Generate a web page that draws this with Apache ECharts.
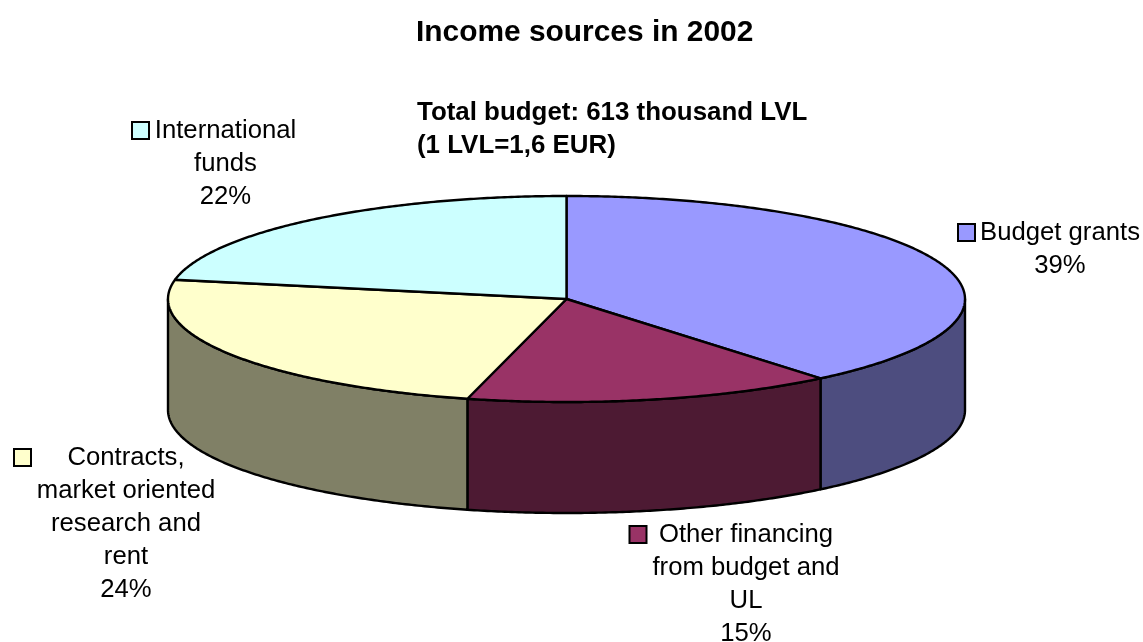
<!DOCTYPE html>
<html>
<head>
<meta charset="utf-8">
<style>html,body{margin:0;padding:0;background:#fff}#chart{width:1143px;height:642px}</style>
<script src="https://cdn.jsdelivr.net/npm/echarts@6/dist/echarts.min.js"></script>
</head>
<body>
<div id="chart"></div>
<script>
// Income shares, clockwise from twelve o'clock
const categories = ['Budget grants', 'Other financing from budget and UL', 'Contracts, market oriented research and rent', 'International funds'];
const shares = [39, 15, 24, 22];
const labelLines = [
  ['Budget grants', '39%'],
  ['Other financing', 'from budget and', 'UL', '15%'],
  ['Contracts,', 'market oriented', 'research and', 'rent', '24%'],
  ['International', 'funds', '22%']
];
const topColors = ['#9999FF', '#993366', '#FFFFCC', '#CCFFFF'];
const wallColors = ['#4D4D7F', '#4D1A33', '#808066', '#668080'];
const titleText = 'Income sources in 2002';
const noteText = 'Total budget: 613 thousand LVL\n(1 LVL=1,6 EUR)';

// Disc geometry: tilted ellipse plus the height of the side wall
const cx = 566.5, cy = 299, rx = 398.5, ry = 103, depth = 111;
// Label block: centre x, first line y, key x, key y
const labelPlaces = [
  [1060, 233, 958, 224],
  [746, 535, 629.5, 526],
  [126, 458, 14, 449],
  [225.5, 131, 132, 122]
];
const lineStep = 33;
const total = shares.reduce((a, b) => a + b, 0);

function rimPoint(deg, dy) {
  const a = deg * Math.PI / 180;
  return [cx + rx * Math.sin(a), cy - ry * Math.cos(a) + dy];
}
function arc(from, to, dy) {
  const pts = [];
  const n = Math.max(2, Math.ceil(Math.abs(to - from) * 2));
  for (let i = 0; i <= n; i++) pts.push(rimPoint(from + (to - from) * i / n, dy));
  return pts;
}

function renderSlice(params, api) {
  const i = params.dataIndex;
  let before = 0;
  for (let k = 0; k < i; k++) before += shares[k];
  const start = before / total * 360;
  const end = (before + api.value(0)) / total * 360;
  const stroke = { stroke: '#000', lineWidth: 2.4, lineJoin: 'round' };
  const children = [];

  // Only the part of the rim on the near half of the disc shows a wall
  const wallFrom = Math.max(start, 90), wallTo = Math.min(end, 270);
  if (wallTo > wallFrom) {
    children.push({
      type: 'polygon',
      shape: { points: arc(wallFrom, wallTo, 0).concat(arc(wallTo, wallFrom, depth)) },
      style: Object.assign({ fill: wallColors[i] }, stroke)
    });
  }
  children.push({
    type: 'polygon',
    shape: { points: [[cx, cy]].concat(arc(start, end, 0)) },
    style: Object.assign({ fill: topColors[i] }, stroke)
  });

  const place = labelPlaces[i];
  children.push({
    type: 'rect',
    shape: { x: place[2], y: place[3], width: 17, height: 17 },
    style: { fill: topColors[i], stroke: '#000', lineWidth: 2 }
  });
  labelLines[i].forEach((line, n) => {
    children.push({
      type: 'text',
      style: {
        text: line, x: place[0], y: place[1] + n * lineStep,
        align: 'center', verticalAlign: 'middle',
        font: '25.7px "Liberation Sans", Arial, sans-serif', fill: '#000'
      }
    });
  });
  return { type: 'group', children };
}

const chart = echarts.init(document.getElementById('chart'), null, { renderer: 'canvas' });
chart.setOption({
  animation: false,
  backgroundColor: '#fff',
  title: [
    { text: titleText, left: 416, top: 18, padding: 0,
      textStyle: { fontFamily: '"Liberation Sans", Arial, sans-serif', fontSize: 29.9, fontWeight: 'bold', color: '#000' } },
    { text: noteText, left: 417, top: 96, padding: 0,
      textStyle: { fontFamily: '"Liberation Sans", Arial, sans-serif', fontSize: 25.9, fontWeight: 'bold', color: '#000', lineHeight: 33 } }
  ],
  series: [{
    type: 'custom',
    coordinateSystem: 'none',
    renderItem: renderSlice,
    data: shares.map((v, i) => ({ name: categories[i], value: [v] }))
  }]
});
</script>
</body>
</html>
